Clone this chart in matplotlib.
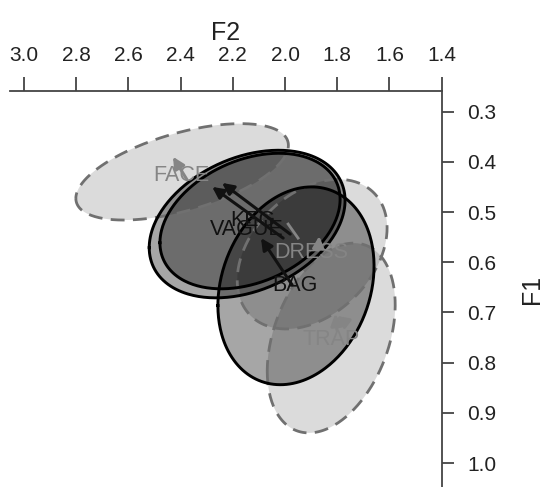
import numpy as np
import matplotlib
matplotlib.use("Agg")
import matplotlib.pyplot as plt

plt.rcParams["font.family"] = ["Liberation Sans", "DejaVu Sans"]

# vowel categories: mean F2/F1 (kHz), half-extent of the ellipse and F1~F2 correlation
vowels = ["FACE", "DRESS", "TRAP", "BAG", "VAGUE", "KEG"]
f2_mean = [2.394, 1.896, 1.823, 1.958, 2.145, 2.134]
f1_mean = [0.420, 0.584, 0.751, 0.647, 0.524, 0.518]
f2_spread = [0.407, 0.287, 0.245, 0.299, 0.375, 0.345]
f1_spread = [0.096, 0.149, 0.189, 0.197, 0.147, 0.135]
corr = [0.55, 0.35, 0.35, 0.20, 0.32, 0.32]
dashed = [True, True, True, False, False, False]

# label positions
label_f2 = [2.398, 1.900, 1.823, 1.961, 2.145, 2.122]
label_f1 = [0.428, 0.580, 0.753, 0.647, 0.534, 0.516]

# formant movement arrows (onset -> offset)
arrow_vowel = ["FACE", "DRESS", "TRAP", "TRAP", "BAG", "VAGUE", "KEG"]
arrow_f2_start = [2.375, 1.873, 1.801, 1.770, 1.973, 2.007, 1.980]
arrow_f1_start = [0.436, 0.576, 0.735, 0.719, 0.645, 0.552, 0.544]
arrow_f2_end = [2.429, 1.869, 1.808, 1.801, 2.092, 2.279, 2.241]
arrow_f1_end = [0.390, 0.548, 0.703, 0.707, 0.552, 0.450, 0.442]

# short DRESS glide segment
seg_f2 = [1.950, 1.988]
seg_f1 = [0.552, 0.524]

xticks = [3.0, 2.8, 2.6, 2.4, 2.2, 2.0, 1.8, 1.6, 1.4]
yticks = [0.3, 0.4, 0.5, 0.6, 0.7, 0.8, 0.9, 1.0]

fig = plt.figure(figsize=(5.44, 4.87), dpi=100)
ax = fig.add_axes([0.0191, 0.0, 0.7928, 0.8133])
ax.set_xlim(3.0517, 1.4)
ax.set_ylim(1.0478, 0.2588)

t = np.linspace(0, 2 * np.pi, 300)
order = [i for i in range(len(vowels)) if dashed[i]] + [i for i in range(len(vowels)) if not dashed[i]]
for i in order:
    r = corr[i]
    x = f2_mean[i] + f2_spread[i] * np.cos(t)
    y = f1_mean[i] + f1_spread[i] * (r * np.cos(t) + np.sqrt(1 - r * r) * np.sin(t))
    if dashed[i]:
        ax.fill(x, y, color="black", alpha=0.14, lw=0)
        ax.plot(x, y, color="#707070", lw=2, ls=(0, (5, 3)))
        tcol = "#858585"
    else:
        ax.fill(x, y, color="black", alpha=0.35, lw=0)
        ax.plot(x, y, color="black", lw=2.1)
        tcol = "#111111"
    ax.text(label_f2[i], label_f1[i], vowels[i], ha="center", va="center",
            fontsize=15.5, color=tcol)
    for k, name in enumerate(arrow_vowel):
        if name == vowels[i]:
            ax.annotate("", xy=(arrow_f2_end[k], arrow_f1_end[k]),
                        xytext=(arrow_f2_start[k], arrow_f1_start[k]),
                        arrowprops=dict(arrowstyle="-|>", color=tcol, lw=2.2,
                                        mutation_scale=17, shrinkA=0, shrinkB=0))
    if vowels[i] == "DRESS":
        ax.plot(seg_f2, seg_f1, color=tcol, lw=2)

ax.xaxis.tick_top()
ax.xaxis.set_label_position("top")
ax.yaxis.tick_right()
ax.yaxis.set_label_position("right")
for side in ["left", "bottom"]:
    ax.spines[side].set_visible(False)
for side in ["top", "right"]:
    ax.spines[side].set_color("#444444")
    ax.spines[side].set_linewidth(1.3)

ax.set_xticks(xticks)
ax.set_xticklabels([f"{v:.1f}" for v in xticks])
ax.set_yticks(yticks)
ax.set_yticklabels([f"{v:.1f}" for v in yticks])
ax.tick_params(axis="x", direction="out", length=10, width=1.3, pad=9,
               labelsize=15, color="#444444", labelcolor="#222222")
ax.tick_params(axis="y", direction="out", length=8.5, width=1.3, pad=10,
               labelsize=15, color="#444444", labelcolor="#222222")
ax.set_xlabel("F2", fontsize=18, labelpad=4, color="#222222")
ax.set_ylabel("F1", fontsize=18, labelpad=17, color="#222222")

fig.savefig("out.png", dpi=100)
